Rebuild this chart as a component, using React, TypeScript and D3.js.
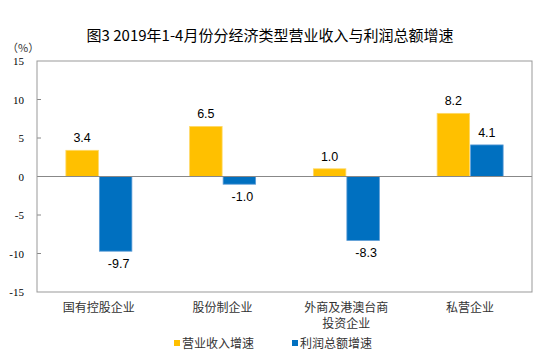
import React from "react";
import * as d3 from "d3";

const categories = ["国有控股企业", "股份制企业", "外商及港澳台商\n投资企业", "私营企业"];
const seriesNames = ["营业收入增速", "利润总额增速"];
const revenueGrowth = [3.4, 6.5, 1.0, 8.2];
const profitGrowth = [-9.7, -1.0, -8.3, 4.1];
const yTicks = [15, 10, 5, 0, -5, -10, -15];
const colors = ["#FFC000", "#0070C0"];
const strokes = ["#FFD966", "#5B9BD5"];
const title = "图3 2019年1-4月份分经济类型营业收入与利润总额增速";

const W = 550, H = 360;
const plot = { left: 37, right: 532, top: 61, bottom: 292 };

export default function App() {
  const x0 = d3.scaleBand<string>().domain(categories).range([plot.left, plot.right]).padding(0);
  const bw = x0.bandwidth();
  const x1 = d3.scaleBand<string>().domain(seriesNames).range([bw / 2 - 33, bw / 2 + 33]).paddingInner(0.03);
  const y = d3.scaleLinear().domain([-15, 15]).range([plot.bottom, plot.top]);
  const series = [revenueGrowth, profitGrowth];

  return (
    <svg width={W} height={H} style={{ position: "absolute", left: 0, top: 0, background: "#fff" }}>
      <rect x={0} y={0} width={W} height={H} fill="#fff" />
      <text x={270} y={41} textAnchor="middle" fontFamily="'Noto Sans CJK SC'" fontSize={15} fill="#000">{title}</text>
      <text x={7} y={52} fontFamily="'Noto Sans CJK SC'" fontSize={11} fill="#333">（%）</text>
      {yTicks.map((t) => (
        <g key={t}>
          <text x={24} y={y(t) + 4} textAnchor="end" fontFamily="'Liberation Serif'" fontSize={11} fill="#000">{t}</text>
          {t !== 15 && t !== -15 && t !== 0 && (
            <line x1={plot.left} x2={plot.left + 4} y1={y(t)} y2={y(t)} stroke="#888" />
          )}
        </g>
      ))}
      {categories.map((c, i) => (
        <g key={c}>
          {series.map((s, j) => {
            const v = s[i];
            const bx = (x0(c) as number) + (x1(seriesNames[j]) as number);
            const top = y(Math.max(0, v));
            const h = Math.abs(y(v) - y(0));
            return (
              <g key={j}>
                <rect x={bx} y={top} width={x1.bandwidth()} height={h} fill={colors[j]} stroke={strokes[j]} strokeWidth={0.8} />
                <text
                  x={bx + x1.bandwidth() / 2 + (v < 0 ? 3 : 0)}
                  y={v >= 0 ? y(v) - 8 : y(v) + 17}
                  textAnchor="middle"
                  fontFamily="'Liberation Sans'"
                  fontSize={12.5}
                  fill="#000"
                >
                  {v.toFixed(1)}
                </text>
              </g>
            );
          })}
          {c.split("\n").map((line, k) => (
            <text key={k} x={(x0(c) as number) + bw / 2} y={312 + k * 16} textAnchor="middle" fontFamily="'Noto Sans CJK SC'" fontSize={12} fill="#333">{line}</text>
          ))}
        </g>
      ))}
      <line x1={plot.left} x2={plot.right} y1={y(0)} y2={y(0)} stroke="#888" />
      <rect x={plot.left} y={plot.top} width={plot.right - plot.left} height={plot.bottom - plot.top} fill="none" stroke="#999" />
      {seriesNames.map((n, j) => (
        <g key={n} transform={`translate(${[174, 292][j]},0)`}>
          <rect x={0} y={340} width={6} height={6} fill={colors[j]} />
          <text x={8} y={348} fontFamily="'Noto Sans CJK SC'" fontSize={12} fill="#333">{n}</text>
        </g>
      ))}
    </svg>
  );
}
